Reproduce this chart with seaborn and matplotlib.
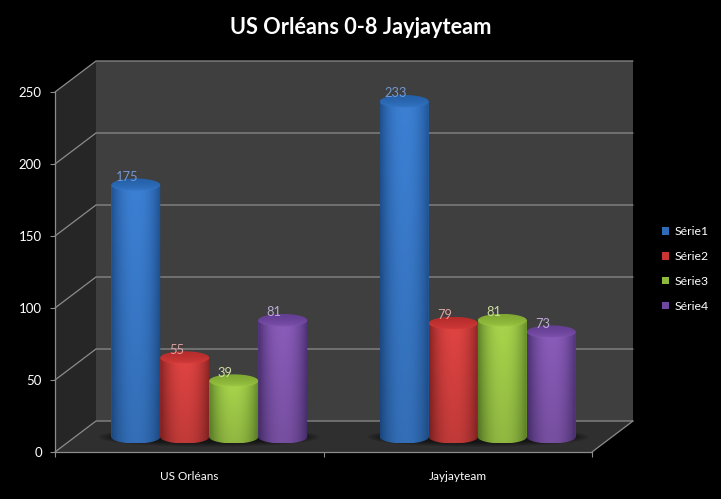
"""Clustered 3D-look cylinder chart: US Orléans 0-8 Jayjayteam."""
import numpy as np
import pandas as pd
import matplotlib
matplotlib.use("Agg")
import matplotlib.pyplot as plt
from matplotlib.colors import to_rgb
from matplotlib.patches import Ellipse
from matplotlib.path import Path as MplPath
import seaborn as sns

teams = ["US Orléans", "Jayjayteam"]
series = ["Série1", "Série2", "Série3", "Série4"]
serie1 = [175, 233]
serie2 = [55, 79]
serie3 = [39, 81]
serie4 = [81, 73]
y_ticks = [0, 50, 100, 150, 200, 250]

palette = ["#2f6cb8", "#c93533", "#8fb93c", "#6f47a0"]
light = ["#3c80d4", "#e04442", "#a8d54c", "#8a5cba"]
dark = ["#1f5190", "#8a2424", "#60872a", "#4c3074"]
cap_dark = ["#2560a8", "#b62c2c", "#7fa832", "#633e92"]
label_colors = ["#7398d0", "#dca09e", "#cbdda2", "#bcaad3"]

W, H = 721, 499
X0, X1 = 55, 592      # front plane of the box
Y0, Y250 = 452, 92
DX, DY = 41, -31      # depth of the box
MX, MY = 20, -15      # plane the cylinders stand on

sns.set_theme(style="dark", rc={"axes.grid": False})
plt.rcParams["font.family"] = ["Lato", "DejaVu Sans"]

df = pd.DataFrame({
    "team": teams * 4,
    "serie": np.repeat(series, 2),
    "value": serie1 + serie2 + serie3 + serie4,
})


def axes_px(fig, left, right, top, bottom):
    return fig.add_axes([left / W, 1 - bottom / H, (right - left) / W, (bottom - top) / H])


def blend(c1, c2, t):
    return np.array(to_rgb(c1)) * (1 - t) + np.array(to_rgb(c2)) * t


def draw_box(ax):
    ax.set_xlim(0, W)
    ax.set_ylim(H, 0)
    ax.axis("off")
    # walls
    ax.fill([X0 + DX, X1 + DX, X1 + DX, X0 + DX], [Y250 + DY, Y250 + DY, Y0 + DY, Y0 + DY], color="#3f3f3f", lw=0)
    ax.fill([X0, X0 + DX, X0 + DX, X0], [Y250, Y250 + DY, Y0 + DY, Y0], color="#262626", lw=0)
    ax.fill([X0, X1, X1 + DX, X0 + DX], [Y0, Y0, Y0 + DY, Y0 + DY], color="#2f2f2f", lw=0)
    grid = "#8c8c8c"
    for v in y_ticks:
        y = Y0 + (Y250 - Y0) * v / 250
        ax.plot([X0, X0 + DX, X1 + DX], [y, y + DY, y + DY], color=grid, lw=0.9, solid_joinstyle="miter")
    ax.plot([X1, X1 + DX], [Y0, Y0 + DY], color=grid, lw=0.9)
    # soft shadows under each group
    for cx in (209, 478):
        for k in range(14):
            t = k / 13
            ax.add_patch(Ellipse((cx, 437), 222 - 36 * t, 20 - 10 * t, color="black", alpha=0.045, lw=0))


def draw_cylinder(ax, patch, i):
    x, w, v = patch.get_x(), patch.get_width(), patch.get_height()
    xc = x + w / 2
    ry = 6.5 / ((Y0 - Y250) / 250)

    # body: dark edges, lit centre, a little darker towards the floor
    u = np.abs(np.linspace(-1, 1, 60)) ** 2.2
    side = np.array([blend(light[i], dark[i], t) for t in u])
    fade = np.linspace(1.0, 0.86, 40)[:, None, None]
    img = side[None, :, :] * fade
    t = np.linspace(np.pi, 2 * np.pi, 40)
    verts = [(x, v)] + [(xc + w / 2 * np.cos(a), ry * np.sin(a)) for a in t] + [(x + w, v), (x, v)]
    body = ax.imshow(img, extent=(x, x + w, -ry, v), origin="upper", aspect="auto", zorder=3 + i, interpolation="bilinear")
    body.set_clip_box(ax.figure.bbox)  # the rounded foot hangs below y=0
    body.set_clip_path(MplPath(verts), ax.transData)

    # cap: brighter towards the front rim
    grad = np.array([blend(light[i], cap_dark[i], s) for s in np.linspace(0, 1, 30) ** 0.4])[:, None, :]
    cap = ax.imshow(grad, extent=(x, x + w, v - ry, v + ry), origin="lower", aspect="auto", zorder=3 + i, interpolation="bilinear")
    a = np.linspace(0, 2 * np.pi, 80)
    cap.set_clip_path(MplPath(np.column_stack([xc + w / 2 * np.cos(a), v + ry * np.sin(a)])), ax.transData)


fig = plt.figure(figsize=(W / 100, H / 100), dpi=100, facecolor="black")

bg = fig.add_axes([0, 0, 1, 1])
draw_box(bg)

# axis furniture on the front plane
ax_front = axes_px(fig, X0, X1, Y250, Y0)
ax_front.patch.set_visible(False)
ax_front.set_xlim(-0.5, 1.5)
ax_front.set_ylim(0, 250)
ax_front.set_yticks(y_ticks)
ax_front.set_xticks([0, 1], teams)
ax_front.set_xticks([-0.5, 0.5, 1.5], minor=True)
ax_front.tick_params(axis="x", which="major", length=0, pad=14, colors="white", labelsize=8.5)
ax_front.tick_params(axis="x", which="minor", length=3.5, width=0.8, color="#8c8c8c", bottom=True)
ax_front.tick_params(axis="y", length=3.5, width=0.8, color="#8c8c8c", labelcolor="white", labelsize=9.5, pad=6, left=True)
for name, sp in ax_front.spines.items():
    sp.set_visible(name in ("left", "bottom"))
    sp.set_color("#8c8c8c")
    sp.set_linewidth(0.9)

# cylinders stand half way into the box
ax = axes_px(fig, X0 + MX, X1 + MX, Y250 + MY, Y0 + MY)
ax.patch.set_visible(False)
sns.barplot(data=df, x="team", y="value", hue="serie", hue_order=series, palette=palette,
            width=0.73, gap=0, saturation=1, errorbar=None, linewidth=0, ax=ax)
ax.set_xlim(-0.5, 1.5)
ax.set_ylim(0, 250)
handles, labels = ax.get_legend_handles_labels()
ax.get_legend().remove()
ax.set_autoscale_on(False)
ax.axis("off")

for i, bars in enumerate(ax.containers):
    for patch in bars:
        patch.set_zorder(2 + i)
        draw_cylinder(ax, patch, i)
        ax.annotate(f"{patch.get_height():.0f}",
                    (patch.get_x() + patch.get_width() / 2, patch.get_height()),
                    xytext=(-8.5, 8), textcoords="offset pixels", ha="center", va="center",
                    color=label_colors[i], fontsize=9.3, zorder=20, annotation_clip=False)

leg = fig.legend(handles, labels, loc="center left", bbox_to_anchor=(662 / W, 1 - 269 / H),
                 frameon=False, fontsize=8.8, labelcolor="white", handlelength=0.57, handleheight=0.57,
                 handletextpad=0.43, labelspacing=1.13, borderpad=0, borderaxespad=0)
for h in leg.get_patches():
    h.set_linewidth(0)

fig.text(361 / W, 1 - 27 / H, "US Orléans 0-8 Jayjayteam", color="white", ha="center", va="center",
         fontsize=15.7, fontweight="bold")

fig.savefig("out.png", dpi=100, facecolor="black")
plt.close(fig)
